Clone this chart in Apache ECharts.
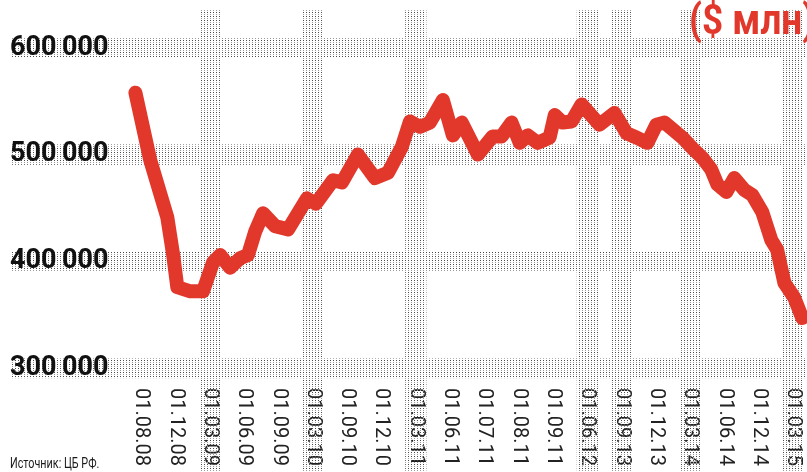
<!DOCTYPE html>
<html>
<head>
<meta charset="utf-8">
<script src="https://cdn.jsdelivr.net/npm/echarts@6/dist/echarts.min.js"></script>
<style>
  html, body { margin: 0; padding: 0; background: #fff; }
  #chart { width: 807px; height: 472px; }
</style>
</head>
<body>
<div id="chart"></div>
<script>
// подписи дат под осью (позиции идут по порядку 0..19)
const xLabels = ['01.08.08', '01.12.08', '01.03.09', '01.06.09', '01.09.09', '01.03.10',
  '01.09.10', '01.12.10', '01.03.11', '01.06.11', '01.07.11', '01.08.11', '01.09.11',
  '01.06.12', '01.09.13', '01.12.13', '01.03.14', '01.06.14', '01.12.14', '01.03.15']

// даты с вертикальной полосой
const bandDates = ['01.03.09', '01.03.10', '01.03.11', '01.06.12', '01.09.13', '01.03.14', '01.03.15']

// значения по оси Y
const yTicks = [300000, 400000, 500000, 600000]

// положение точки на шкале подписей и объём резервов, $ млн
const linePos = [-0.17, 0.26, 0.76, 0.93, 1.05, 1.43, 1.80, 2.09, 2.30, 2.59, 2.88, 3.11,
  3.32, 3.55, 3.90, 4.28, 4.83, 5.09, 5.59, 5.85, 6.31, 6.81, 7.19, 7.59, 7.83, 8.12,
  8.41, 8.79, 9.08, 9.34, 9.81, 10.24, 10.50, 10.79, 11.03, 11.26, 11.55, 11.90, 12.05,
  12.28, 12.54, 12.83, 13.35, 13.79, 14.14, 14.43, 14.75, 15.01, 15.25, 15.77, 16.06,
  16.35, 16.61, 16.79, 17.05, 17.28, 17.57, 17.81, 18.10, 18.36, 18.53, 18.74, 19.03, 19.26]
const reserves = [558000, 495000, 441000, 406000, 376000, 372000, 372000, 399000, 406000,
  394000, 403000, 406000, 428000, 445000, 433000, 430000, 459000, 454000, 476000, 474000,
  500000, 478000, 483000, 507000, 531000, 526000, 530000, 551000, 518000, 530000, 500000,
  517000, 517000, 530000, 511000, 518000, 511000, 516000, 537000, 530000, 531000, 547000,
  528000, 539000, 520000, 516000, 511000, 528000, 530000, 516000, 506000, 497000, 486000,
  472000, 465000, 478000, 467000, 462000, 446000, 420000, 411000, 380000, 366000, 347000]

const RED = '#e2382b'
const X_MIN = -4
const X_MAX = 19.4

// точечная заливка полос
const makeDots = () => {
  const c = document.createElement('canvas')
  c.width = 3
  c.height = 4
  const ctx = c.getContext('2d')
  ctx.fillStyle = '#4a4a4a'
  ctx.fillRect(0, 0, 1, 1)
  ctx.fillStyle = '#9a9a9a'
  ctx.fillRect(0, 2, 1, 1)
  return c
}
const dots = { image: makeDots(), repeat: 'repeat' }

const hBands = yTicks.map(v => [
  { xAxis: -3.82, yAxis: v - 9400 },
  { xAxis: X_MAX, yAxis: v + 9400 }
])
const vBands = bandDates.map(d => {
  const i = xLabels.indexOf(d)
  return [
    { xAxis: i - 0.31, yAxis: 200000 },
    { xAxis: i + 0.31, yAxis: 636000 }
  ]
})

const chart = echarts.init(document.getElementById('chart'))

chart.setOption({
  animation: false,
  backgroundColor: '#fff',
  graphic: [
    {
      type: 'text',
      x: 689,
      y: 2,
      scaleX: 0.88,
      z: 20,
      style: {
        text: '($ млн)',
        fill: RED,
        font: 'bold 42px Roboto, sans-serif'
      }
    },
    {
      type: 'text',
      x: 10,
      y: 457,
      scaleX: 0.72,
      z: 20,
      style: {
        text: 'Источник: ЦБ РФ.',
        fill: '#1a1a1a',
        font: '15px Roboto, sans-serif'
      }
    }
  ],
  grid: { left: 4, right: 0, top: -59, bottom: -3, outerBoundsMode: 'none', containLabel: false },
  xAxis: {
    type: 'value',
    min: X_MIN,
    max: X_MAX,
    interval: 1,
    offset: -95,
    axisLine: { show: false },
    axisTick: { show: false },
    splitLine: { show: false },
    axisLabel: {
      rotate: -90,
      margin: 8,
      color: '#222',
      fontSize: 20,
      fontFamily: 'Roboto, sans-serif',
      formatter: v => (v >= 0 && Number.isInteger(v) && xLabels[v]) ? xLabels[v] : ''
    }
  },
  yAxis: {
    type: 'value',
    min: 200000,
    max: 700000,
    interval: 100000,
    z: 10,
    axisLine: { show: false },
    axisTick: { show: false },
    splitLine: { show: false },
    axisLabel: {
      inside: true,
      margin: 6,
      padding: [6, 0, 0, 0],
      color: '#111',
      fontSize: 27,
      fontWeight: 'bold',
      fontFamily: 'Roboto, sans-serif',
      formatter: v => yTicks.includes(v) ? String(v / 1000) + '\u2009000' : ''
    }
  },
  series: [
    {
      type: 'line',
      data: [],
      z: 1,
      silent: true,
      markArea: {
        silent: true,
        itemStyle: { color: dots },
        data: hBands.concat(vBands)
      }
    },
    {
      type: 'line',
      z: 3,
      clip: false,
      showSymbol: false,
      data: linePos.map((p, i) => [p, reserves[i]]),
      lineStyle: {
        color: RED,
        width: 14,
        cap: 'round',
        join: 'round'
      }
    }
  ]
})
</script>
</body>
</html>
